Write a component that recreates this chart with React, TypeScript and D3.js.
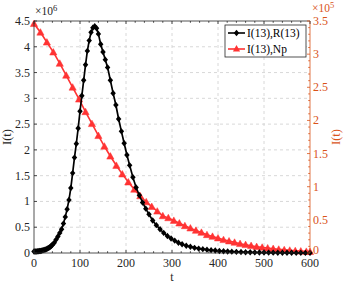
import React from "react";
import * as d3 from "d3";

// Black series: I(13),R(13) (left axis, x10^6)
const tBlack = [0,2,4,6,8,10,12,14,16,18,20,22,24,26,28,30,32,34,36,38,40,
  44,48,52,56,60,64,68,72,76,80,84,88,92,96,100,104,108,112,116,120,124,128,132,136,140,145,150,155,160,166,172,178,184,190,196,202,208,215,222,229,236,243,250,258,266,274,282,290,298,306,314,322,331,340,349,358,367,376,385,394,403,412,421,430,440,450,460,470,480,490,500,510,520,530,540,550,560,570,580,590,600];
const vBlack = [0.03,0.03,0.03,0.03,0.035,0.035,0.04,0.04,0.045,0.05,0.055,0.06,0.065,0.07,0.08,0.09,0.1,0.11,0.125,0.14,0.16,
  0.2,0.26,0.32,0.39,0.46,0.57,0.7,0.85,1.03,1.26,1.55,1.85,2.12,2.42,2.75,3.05,3.35,3.65,3.92,4.12,4.28,4.37,4.4,4.36,4.25,4.05,3.9,3.75,3.6,3.35,3.1,2.87,2.6,2.36,2.13,1.9,1.7,1.47,1.27,1.12,0.98,0.86,0.75,0.63,0.54,0.46,0.39,0.33,0.28,0.24,0.2,0.17,0.14,0.12,0.1,0.085,0.075,0.065,0.055,0.048,0.04,0.035,0.03,0.026,0.022,0.019,0.016,0.014,0.012,0.01,0.009,0.008,0.007,0.006,0.005,0.004,0.004,0.003,0.003,0.002,0.002];

// Red series: I(13),Np (right axis, x10^5)
const tRed = [0,14,28,42,56,70,84,98,112,126,140,153,166,179,192,205,218,231,244,256,268,280,292,304,316,328,340,352,364,376,388,400,412,424,436,448,460,472,484,496,508,520,532,544,556,568,580,592,600];
const vRed = [3.46,3.33,3.18,3.03,2.86,2.68,2.5,2.32,2.13,1.95,1.77,1.61,1.46,1.32,1.19,1.07,0.96,0.86,0.77,0.7,0.63,0.56,0.53,0.49,0.45,0.41,0.375,0.34,0.31,0.275,0.25,0.225,0.2,0.18,0.16,0.14,0.125,0.11,0.095,0.085,0.075,0.065,0.055,0.048,0.04,0.034,0.028,0.023,0.02];

const xTicks = [0,100,200,300,400,500,600];
const yLeftTicks = [0,0.5,1,1.5,2,2.5,3,3.5,4,4.5];
const yRightTicks = [0,0.5,1,1.5,2,2.5,3,3.5];
const legendLabels = ["I(13),R(13)", "I(13),Np"];

const W = 346, H = 283;
const L = 34, R = 310, T = 21, B = 253;
const RIGHT_COLOR = "#d95319";
const RED = "#ff3333";
const FONT = "Liberation Serif, Times New Roman, serif";

export default function App() {
  const x = d3.scaleLinear().domain([0, 600]).range([L, R]);
  const yL = d3.scaleLinear().domain([0, 4.5]).range([B, T]);
  const yR = d3.scaleLinear().domain([0, 3.5]).range([B, T]);

  const blackPts = tBlack.map((t, i) => [x(t), yL(vBlack[i])] as [number, number]);
  const redPts = tRed.map((t, i) => [x(t), yR(vRed[i])] as [number, number]);
  const line = d3.line();

  const xMinor = d3.range(0, 601, 20);
  const yRMinor = d3.range(0, 3.51, 0.1);

  const diamond = (cx: number, cy: number, s = 3.2) =>
    `M${cx},${cy - s}L${cx + s * 0.85},${cy}L${cx},${cy + s}L${cx - s * 0.85},${cy}Z`;
  const tri = (cx: number, cy: number, s = 3.6) =>
    `M${cx},${cy - s}L${cx + s},${cy + s * 0.8}L${cx - s},${cy + s * 0.8}Z`;

  return (
    <svg width={W} height={H} style={{ position: "absolute", left: 0, top: 0, background: "#fff" }} fontFamily={FONT}>
      <rect x={0} y={0} width={W} height={H} fill="#fff" />
      {/* grid */}
      {xTicks.slice(1, -1).map((t) => (
        <line key={"gx" + t} x1={x(t)} x2={x(t)} y1={T} y2={B} stroke="#d4d4d4" strokeWidth={0.9} strokeDasharray="3,3" />
      ))}
      {yLeftTicks.slice(1, -1).map((v) => (
        <line key={"gy" + v} x1={L} x2={R} y1={yL(v)} y2={yL(v)} stroke="#d4d4d4" strokeWidth={0.9} strokeDasharray="3,3" />
      ))}

      {/* red series */}
      <path d={line(redPts) || ""} fill="none" stroke={RED} strokeWidth={1.6} />
      {redPts.map(([px, py], i) => (
        <path key={"r" + i} d={tri(px, py)} fill={RED} stroke={RED} strokeWidth={0.5} />
      ))}
      {/* black series */}
      <path d={line(blackPts) || ""} fill="none" stroke="#000" strokeWidth={1.7} />
      {blackPts.map(([px, py], i) => (
        <path key={"b" + i} d={diamond(px, py)} fill="#000" />
      ))}

      {/* axes box */}
      <line x1={L} x2={R} y1={T} y2={T} stroke="#262626" strokeWidth={0.8} />
      <line x1={L} x2={R} y1={B} y2={B} stroke="#262626" strokeWidth={0.8} />
      <line x1={L} x2={L} y1={T} y2={B} stroke="#262626" strokeWidth={0.8} />
      <line x1={R} x2={R} y1={T} y2={B} stroke={RIGHT_COLOR} strokeWidth={0.8} />

      {/* x ticks */}
      {xMinor.map((t) => {
        const major = t % 100 === 0;
        const len = major ? 3 : 1.8;
        return (
          <g key={"xt" + t}>
            <line x1={x(t)} x2={x(t)} y1={B} y2={B - len} stroke="#262626" strokeWidth={0.8} />
            <line x1={x(t)} x2={x(t)} y1={T} y2={T + len} stroke="#262626" strokeWidth={0.8} />
          </g>
        );
      })}
      {xTicks.map((t) => (
        <text key={"xl" + t} x={x(t)} y={B + 14} textAnchor="middle" fontSize={12} fill="#262626">{t}</text>
      ))}
      <text x={(L + R) / 2} y={B + 28} textAnchor="middle" fontSize={12} fill="#262626">t</text>

      {/* left y ticks */}
      {yLeftTicks.map((v) => (
        <g key={"yl" + v}>
          <line x1={L} x2={L + 3} y1={yL(v)} y2={yL(v)} stroke="#262626" strokeWidth={0.8} />
          <text x={L - 4} y={yL(v) + 4} textAnchor="end" fontSize={12} fill="#262626">{v}</text>
        </g>
      ))}
      <text x={L + 1} y={T - 6} fontSize={11.5} fill="#262626">
        ×10<tspan dy={-4} fontSize={8.5}>6</tspan>
      </text>
      <text transform={`translate(11,${(T + B) / 2}) rotate(-90)`} textAnchor="middle" fontSize={12.5} fill="#262626">I(t)</text>

      {/* right y ticks */}
      {yRMinor.map((v, i) => {
        const major = i % 5 === 0;
        return (
          <line key={"yrm" + i} x1={R} x2={R - (major ? 3 : 1.8)} y1={yR(v)} y2={yR(v)} stroke={RIGHT_COLOR} strokeWidth={0.8} />
        );
      })}
      {yRightTicks.map((v) => (
        <text key={"yr" + v} x={R + 3} y={yR(v) + (v === 0 ? 1 : 4)} textAnchor="start" fontSize={12} fill={RIGHT_COLOR}>{v}</text>
      ))}
      <text x={R + 2} y={T - 9} fontSize={11.5} fill={RIGHT_COLOR}>
        ×10<tspan dy={-4} fontSize={8.5}>5</tspan>
      </text>
      <text transform={`translate(340,${(T + B) / 2}) rotate(-90)`} textAnchor="middle" fontSize={12.5} fill={RIGHT_COLOR}>I(t)</text>

      {/* legend */}
      <rect x={225} y={25} width={81} height={32} fill="#fff" stroke="#262626" strokeWidth={0.8} />
      <line x1={228} x2={245} y1={33} y2={33} stroke="#000" strokeWidth={1.6} />
      <path d={diamond(236.5, 33)} fill="#000" />
      <text x={247} y={37} fontSize={11.5} fill="#000">{legendLabels[0]}</text>
      <line x1={228} x2={245} y1={49} y2={49} stroke={RED} strokeWidth={1.6} />
      <path d={tri(236.5, 48.5)} fill={RED} />
      <text x={247} y={53} fontSize={11.5} fill="#000">{legendLabels[1]}</text>
    </svg>
  );
}
